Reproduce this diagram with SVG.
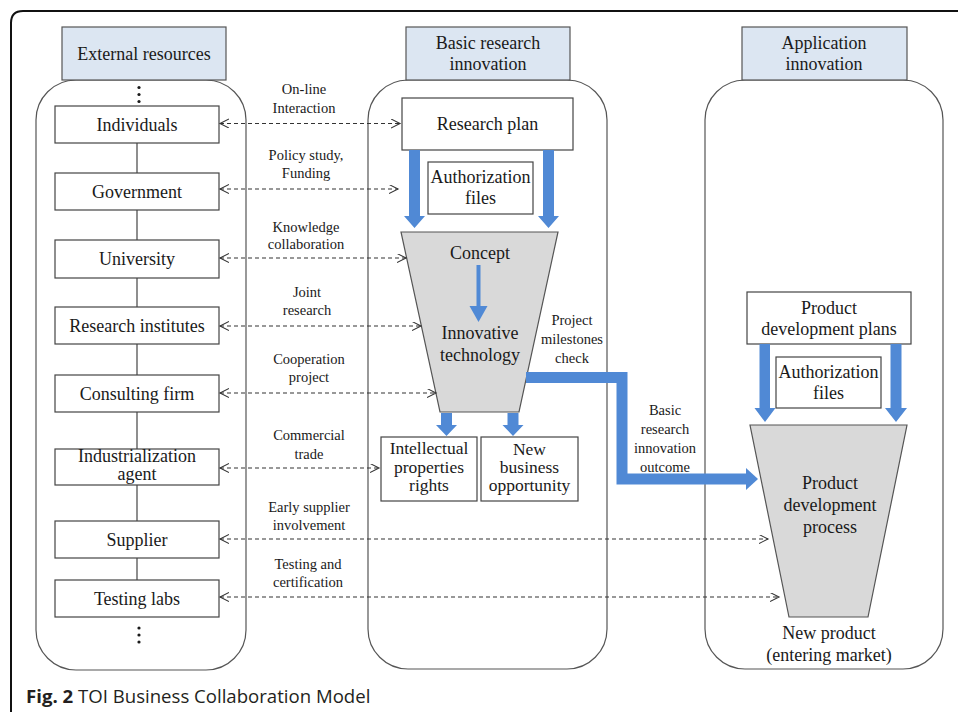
<svg xmlns="http://www.w3.org/2000/svg" width="958" height="712" viewBox="0 0 958 712">
<defs>
<style>
.t{font-family:"Liberation Serif","Times New Roman",serif;font-size:18px;fill:#1a1a1a;text-anchor:middle}
.s{font-size:17.5px}
.l{font-family:"Liberation Serif","Times New Roman",serif;font-size:14.5px;fill:#1a1a1a;text-anchor:middle}
.box{fill:#fff;stroke:#444;stroke-width:1.2}
.hdr{fill:#dce6f2;stroke:#555;stroke-width:1.2}
.cont{fill:none;stroke:#555;stroke-width:1.2}
.fun{fill:#d9d9d9;stroke:#555;stroke-width:1.2}
.blue{fill:#5089d5}
.dash{fill:none;stroke:#333;stroke-width:1.1;stroke-dasharray:4 3;marker-start:url(#ah);marker-end:url(#ah)}
.vl{stroke:#444;stroke-width:1.2}
.dot{fill:#1a1a1a}
</style>
<marker id="ah" markerUnits="userSpaceOnUse" markerWidth="12" markerHeight="12" refX="9" refY="4.5" orient="auto-start-reverse">
<path d="M0,0 L9,4.5 L0,9" fill="none" stroke="#333" stroke-width="1.1"/>
</marker>
</defs>
<rect width="958" height="712" fill="#fff"/>
<path d="M11,712 V23 Q11,11 23,11 H958" fill="none" stroke="#111" stroke-width="2"/>

<g id="containers">
<rect class="cont" x="36" y="80" width="210" height="590" rx="40" ry="40"/>
<rect class="cont" x="368" y="80" width="239" height="589" rx="40" ry="40"/>
<rect class="cont" x="705" y="80" width="238" height="589" rx="40" ry="40"/>
</g>

<g id="hdr-external"><rect class="hdr" x="62" y="27" width="164" height="53"/><text class="t" x="144" y="59.5">External  resources</text></g>
<g id="hdr-basic"><rect class="hdr" x="406" y="27" width="164" height="53"/><text class="t" x="488" y="49">Basic research</text><text class="t" x="488" y="70">innovation</text></g>
<g id="hdr-app"><rect class="hdr" x="742" y="27" width="165" height="53"/><text class="t" x="824" y="49">Application</text><text class="t" x="824" y="70">innovation</text></g>

<g id="dots-top"><circle class="dot" cx="139" cy="87.5" r="1.6"/><circle class="dot" cx="139" cy="94.5" r="1.6"/><circle class="dot" cx="139" cy="101.5" r="1.6"/></g>
<g id="dots-bottom"><circle class="dot" cx="139" cy="628" r="1.6"/><circle class="dot" cx="139" cy="635" r="1.6"/><circle class="dot" cx="139" cy="642" r="1.6"/></g>

<g id="chain">
<line class="vl" x1="137" y1="143" x2="137" y2="173"/>
<line class="vl" x1="137" y1="210" x2="137" y2="240"/>
<line class="vl" x1="137" y1="278" x2="137" y2="307"/>
<line class="vl" x1="137" y1="344" x2="137" y2="375"/>
<line class="vl" x1="137" y1="412" x2="137" y2="449"/>
<line class="vl" x1="137" y1="485" x2="137" y2="521"/>
<line class="vl" x1="137" y1="558" x2="137" y2="580"/>
</g>

<g id="individuals"><rect class="box" x="55" y="106" width="164" height="37"/><text class="t" x="137" y="130.5">Individuals</text></g>
<g id="government"><rect class="box" x="55" y="173" width="164" height="37"/><text class="t" x="137" y="197.5">Government</text></g>
<g id="university"><rect class="box" x="55" y="240" width="164" height="38"/><text class="t" x="137" y="265">University</text></g>
<g id="research-institutes"><rect class="box" x="55" y="307" width="164" height="37"/><text class="t" x="137" y="331.5">Research institutes</text></g>
<g id="consulting-firm"><rect class="box" x="55" y="375" width="164" height="37"/><text class="t" x="137" y="399.5">Consulting  firm</text></g>
<g id="industrialization-agent"><rect class="box" x="55" y="449" width="164" height="36"/><text class="t" x="137" y="462">Industrialization</text><text class="t" x="137" y="480">agent</text></g>
<g id="supplier"><rect class="box" x="55" y="521" width="164" height="37"/><text class="t" x="137" y="545.5">Supplier</text></g>
<g id="testing-labs"><rect class="box" x="55" y="580" width="164" height="37"/><text class="t" x="137" y="604.5">Testing labs</text></g>

<g id="research-plan"><rect class="box" x="402" y="98" width="171" height="52"/><text class="t" x="487.5" y="130">Research plan</text></g>
<g id="auth-files-1"><rect class="box" x="428" y="162" width="105" height="52"/><text class="t" x="480.5" y="183">Authorization</text><text class="t" x="480.5" y="204">files</text></g>

<g id="blue-arrows-1">
<polygon class="blue" points="409,150 420,150 420,216 425,216 414.5,228 404,216 409,216"/>
<polygon class="blue" points="543,150 554,150 554,216 559,216 548.5,228 538,216 543,216"/>
</g>

<g id="funnel-basic">
<polygon class="fun" points="401,232 558,232 519,412 440,412"/>
<text class="t" x="480" y="259">Concept</text>
<polygon class="blue" points="476.5,265 480.5,265 480.5,306 487.5,306 478.5,322 469.5,306 476.5,306"/>
<text class="t" x="480" y="339">Innovative</text>
<text class="t" x="480" y="361">technology</text>
</g>

<g id="blue-arrows-2">
<polygon class="blue" points="441,413 452,413 452,425 457,425 446.5,436 436,425 441,425"/>
<polygon class="blue" points="507.5,413 518.5,413 518.5,425 523.5,425 513,436 502.5,425 507.5,425"/>
</g>

<g id="ip-rights"><rect class="box" x="381" y="437" width="96" height="64"/><text class="t s" x="429" y="454">Intellectual</text><text class="t s" x="429" y="472.5">properties</text><text class="t s" x="429" y="491">rights</text></g>
<g id="new-business"><rect class="box" x="481" y="437" width="97" height="64"/><text class="t s" x="529.5" y="455">New</text><text class="t s" x="529.5" y="473">business</text><text class="t s" x="529.5" y="491">opportunity</text></g>

<g id="outcome-arrow">
<path d="M526,377.5 H622 V479 H747" fill="none" stroke="#5089d5" stroke-width="11"/>
<polygon class="blue" points="746,468 758,479 746,490"/>
</g>
<g id="outcome-labels">
<text class="l" x="572" y="325">Project</text>
<text class="l" x="572" y="344">milestones</text>
<text class="l" x="572" y="363">check</text>
<text class="l" x="665" y="415">Basic</text>
<text class="l" x="665" y="434">research</text>
<text class="l" x="665" y="453">innovation</text>
<text class="l" x="665" y="472">outcome</text>
</g>

<g id="product-plans"><rect class="box" x="747" y="292" width="164" height="52"/><text class="t" x="829" y="314">Product</text><text class="t" x="829" y="335">development plans</text></g>
<g id="auth-files-2"><rect class="box" x="776" y="357" width="105" height="51"/><text class="t" x="828.5" y="378">Authorization</text><text class="t" x="828.5" y="399">files</text></g>
<g id="blue-arrows-3">
<polygon class="blue" points="759.5,344 770,344 770,408 775.5,408 765,422 754.5,408 759.5,408"/>
<polygon class="blue" points="890.5,344 901.5,344 901.5,408 907,408 896,422 885,408 890.5,408"/>
</g>
<g id="funnel-app">
<polygon class="fun" points="750,425 907,425 868,617 789,617"/>
<text class="t" x="830" y="489">Product</text>
<text class="t" x="830" y="511">development</text>
<text class="t" x="830" y="533">process</text>
</g>
<g id="new-product"><text class="t" x="829" y="639">New product</text><text class="t" x="829" y="661">(entering  market)</text></g>

<g id="connectors">
<line class="dash" x1="220" y1="123.5" x2="400" y2="123.5"/>
<line class="dash" x1="220" y1="189" x2="398" y2="189"/>
<line class="dash" x1="220" y1="258" x2="406" y2="258"/>
<line class="dash" x1="220" y1="326" x2="421" y2="326"/>
<line class="dash" x1="220" y1="393" x2="436" y2="393"/>
<line class="dash" x1="220" y1="468" x2="379" y2="468"/>
<line class="dash" x1="220" y1="539" x2="768" y2="539"/>
<line class="dash" x1="220" y1="597" x2="779" y2="597"/>
</g>
<g id="connector-labels">
<text class="l" x="304" y="94">On-line</text>
<text class="l" x="304" y="113">Interaction</text>
<text class="l" x="306" y="160">Policy  study,</text>
<text class="l" x="306" y="178">Funding</text>
<text class="l" x="306" y="232">Knowledge</text>
<text class="l" x="306" y="249">collaboration</text>
<text class="l" x="307" y="297">Joint</text>
<text class="l" x="307" y="315">research</text>
<text class="l" x="309" y="364">Cooperation</text>
<text class="l" x="309" y="382">project</text>
<text class="l" x="309" y="440">Commercial</text>
<text class="l" x="309" y="459">trade</text>
<text class="l" x="309" y="512">Early  supplier</text>
<text class="l" x="309" y="530">involvement</text>
<text class="l" x="308" y="569">Testing  and</text>
<text class="l" x="308" y="587">certification</text>
</g>

<text x="26" y="703" font-family="'Open Sans','Noto Sans',sans-serif" font-size="18.6" fill="#231f20"><tspan font-weight="bold">Fig. 2</tspan> TOI Business Collaboration Model</text>
</svg>
